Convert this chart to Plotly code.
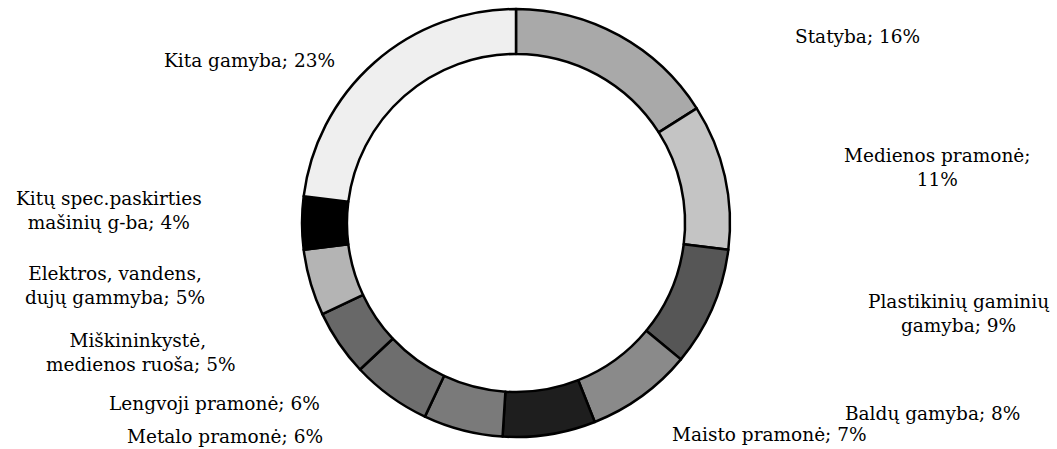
import plotly.graph_objects as go

# Data (clockwise from 12 o'clock)
labels = [
    "Statyba", "Medienos pramonė", "Plastikinių gaminių gamyba", "Baldų gamyba",
    "Maisto pramonė", "Metalo pramonė", "Lengvoji pramonė",
    "Miškininkystė, medienos ruoša", "Elektros, vandens, dujų gammyba",
    "Kitų spec.paskirties mašinių g-ba", "Kita gamyba",
]
values = [16, 11, 9, 8, 7, 6, 6, 5, 5, 4, 23]
label_texts = [
    "Statyba; 16%",
    "Medienos pramonė;<br>11%",
    "Plastikinių gaminių<br>gamyba; 9%",
    "Baldų gamyba; 8%",
    "Maisto pramonė; 7%",
    "Metalo pramonė; 6%",
    "Lengvoji pramonė; 6%",
    "Miškininkystė, <br>medienos ruoša; 5%",
    "Elektros, vandens,<br>dujų gammyba; 5%",
    "Kitų spec.paskirties<br>mašinių g-ba; 4%",
    "Kita gamyba; 23%",
]

# Styling
colors = ["#a9a9a9", "#c4c4c4", "#565656", "#8a8a8a", "#1e1e1e", "#7a7a7a",
          "#6e6e6e", "#686868", "#b4b4b4", "#000000", "#efefef"]
# label centers in pixel coords (x, y) of a 1057x449 canvas
label_pos = [(857, 37), (937, 167), (958, 313), (932, 413), (770, 434),
             (225, 436), (214, 403), (141, 352), (115, 285), (109, 210), (249, 60)]

W, H = 1057, 449
cx, cy, r = 516, 223, 214

fig = go.Figure(go.Pie(
    labels=labels, values=values, sort=False, direction="clockwise", rotation=0,
    hole=0.79, textinfo="none", hoverinfo="label+percent",
    marker=dict(colors=colors, line=dict(color="black", width=2.5)),
    domain=dict(x=[(cx - r) / W, (cx + r) / W], y=[1 - (cy + r) / H, 1 - (cy - r) / H]),
    showlegend=False,
))

for t, (px, py) in zip(label_texts, label_pos):
    fig.add_annotation(x=px / W, y=1 - py / H, xref="paper", yref="paper", text=t,
                       showarrow=False, xanchor="center", yanchor="middle",
                       font=dict(family="DejaVu Serif", size=18.5, color="black"))

fig.update_layout(width=W, height=H, margin=dict(l=0, r=0, t=0, b=0),
                  paper_bgcolor="white", plot_bgcolor="white")
fig.write_html("out.html", config={"displayModeBar": False},
               post_script="document.body.style.margin='0';")
